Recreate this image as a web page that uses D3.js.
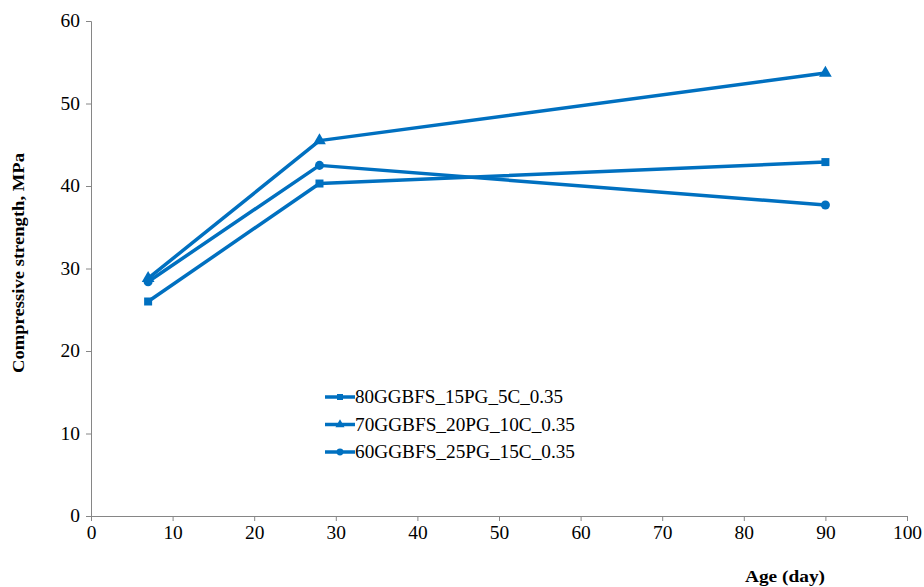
<!DOCTYPE html>
<html><head><meta charset="utf-8">
<script src="https://cdn.jsdelivr.net/npm/d3@7"></script>
<style>body{margin:0;background:#fff}svg{display:block}svg text{font-family:"Liberation Serif","Times New Roman",serif}</style>
</head><body>
<script>
const ages = [7, 28, 90];
const seriesNames = ["80GGBFS_15PG_5C_0.35", "70GGBFS_20PG_10C_0.35", "60GGBFS_25PG_15C_0.35"];
const s1 = [26.0, 40.3, 42.9];
const s2 = [28.8, 45.5, 53.7];
const s3 = [28.4, 42.5, 37.7];
const markers = ["square", "triangle", "circle"];
const xTicks = [0,10,20,30,40,50,60,70,80,90,100];
const yTicks = [0,10,20,30,40,50,60];

const W = 924, H = 587;
const svg = d3.select("body").append("svg").attr("width", W).attr("height", H);
const x = d3.scaleLinear().domain([0,100]).range([91, 907]);
const y = d3.scaleLinear().domain([0,60]).range([516, 21]);
const color = "#0070C0";
const axisColor = "#868686";

const ya = svg.append("g").attr("transform", `translate(${x(0)},0)`).call(d3.axisLeft(y).tickValues(yTicks).tickSize(5).tickPadding(6));
const xa = svg.append("g").attr("transform", `translate(0,${y(0)})`).call(d3.axisBottom(x).tickValues(xTicks).tickSize(5).tickPadding(5));
[ya, xa].forEach(a => {
  a.attr("font-family", null);
  a.selectAll("path,line").attr("stroke", axisColor).attr("stroke-width", 1);
  a.selectAll("text").attr("font-size", 18).attr("fill", "#000")
    .attr("transform", "scale(1.08,1)").attr("x", function(){ return (+d3.select(this).attr("x")||0)/1.08; });
});

svg.append("text").attr("transform", `translate(24,263) rotate(-90)`).attr("text-anchor","middle")
  .attr("font-size", 17).attr("font-weight","bold").attr("textLength", 220).attr("lengthAdjust","spacingAndGlyphs")
  .text("Compressive strength, MPa");
svg.append("text").attr("x", 785).attr("y", 582).attr("text-anchor","middle")
  .attr("font-size", 17).attr("font-weight","bold").attr("textLength", 80).attr("lengthAdjust","spacingAndGlyphs")
  .text("Age (day)");

const data = [s1, s2, s3];
const line = d3.line().x((d,i)=>x(ages[i])).y(d=>y(d));
const sym = {square: d3.symbolSquare, triangle: d3.symbolTriangle, circle: d3.symbolCircle};
const symSize = {square: 64, triangle: 70, circle: 64};

data.forEach((vals, k) => {
  svg.append("path").datum(vals).attr("d", line).attr("fill","none").attr("stroke", color)
    .attr("stroke-width", 3.5).attr("stroke-linejoin","round");
  vals.forEach((v,i) => {
    svg.append("path").attr("d", d3.symbol().type(sym[markers[k]]).size(symSize[markers[k]])())
      .attr("transform", `translate(${x(ages[i])},${y(v)})`).attr("fill", color);
  });
});

// legend
const lg = svg.append("g");
seriesNames.forEach((n, k) => {
  const ly = 397 + k*27.5;
  lg.append("line").attr("x1", 325).attr("x2", 355).attr("y1", ly).attr("y2", ly).attr("stroke", color).attr("stroke-width", 3.5);
  lg.append("path").attr("d", d3.symbol().type(sym[markers[k]]).size(36)())
    .attr("transform", `translate(340,${ly})`).attr("fill", color);
  const w = [208, 220, 220][k];
  lg.append("text").attr("x", 355).attr("y", ly+6).attr("font-size", 18).attr("fill","#000")
    .attr("textLength", w).attr("lengthAdjust","spacingAndGlyphs").text(n);
});
</script>
</body></html>
